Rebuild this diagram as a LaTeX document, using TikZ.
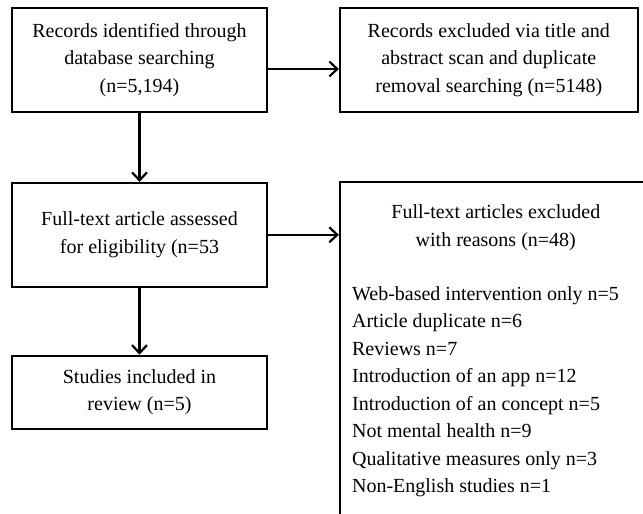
\documentclass[tikz,border=0pt]{standalone}
\usepackage{fontspec}
\setmainfont{Liberation Serif}
\usetikzlibrary{positioning}
\usetikzlibrary{arrows.meta}

\begin{document}
\begin{tikzpicture}[
			x=1pt, y=1pt,
			font=\fontsize{20}{27.5}\selectfont,
			box/.style={draw, rectangle, line width=1.8pt, minimum width=255pt, minimum height=104pt, align=center},
			wide/.style={box, minimum width=298pt},
			arrow/.style={-{Straight Barb[length=8pt, width=15pt]}, line width=2.2pt}
			]
			\useasboundingbox (0,0) rectangle (643,-514);
			\clip (0,0) rectangle (643,-514);
			% Nodes
			\node[box] (records) at (139.5,-60) {Records identified through\\database searching\\(n=5,194)};
			\node[wide, right=71pt of records] (excluded) {Records excluded via title and\\abstract scan and duplicate\\removal searching (n=5148)};
			\node[box, below=69pt of records] (fulltext) {Full-text article assessed\\for eligibility (n=53};
			\node[box, minimum height=73pt, below=67pt of fulltext] (included) {Studies included in\\review (n=5)};
			
			% Excluded full texts
			\node[box, minimum width=312pt, minimum height=400pt, anchor=north west] (fullex) at ([xshift=71pt, yshift=1pt]fulltext.north east) {};
			\node[align=center, inner sep=0pt] (fullexhead) at ([yshift=-47pt]fullex.north) {Full-text articles excluded\\with reasons (n=48)};
			\node[align=left, inner sep=0pt, anchor=west] (reasons) at ([xshift=13pt, yshift=-211pt]fullex.north west) {Web-based intervention only n=5\\Article duplicate n=6\\Reviews n=7\\Introduction of an app n=12\\Introduction of an concept n=5\\Not mental health n=9\\Qualitative measures only n=3\\Non-English studies n=1};
			
			% Arrows
			\draw[arrow] ([yshift=-9pt]records.east) -- ([yshift=-9pt]records.east -| excluded.west);
			\draw[arrow] (records) -- (fulltext);
			\draw[arrow] (fulltext.east) -- (fulltext.east -| fullex.west);
			\draw[arrow] (fulltext) -- (included);
		\end{tikzpicture}
\end{document}
